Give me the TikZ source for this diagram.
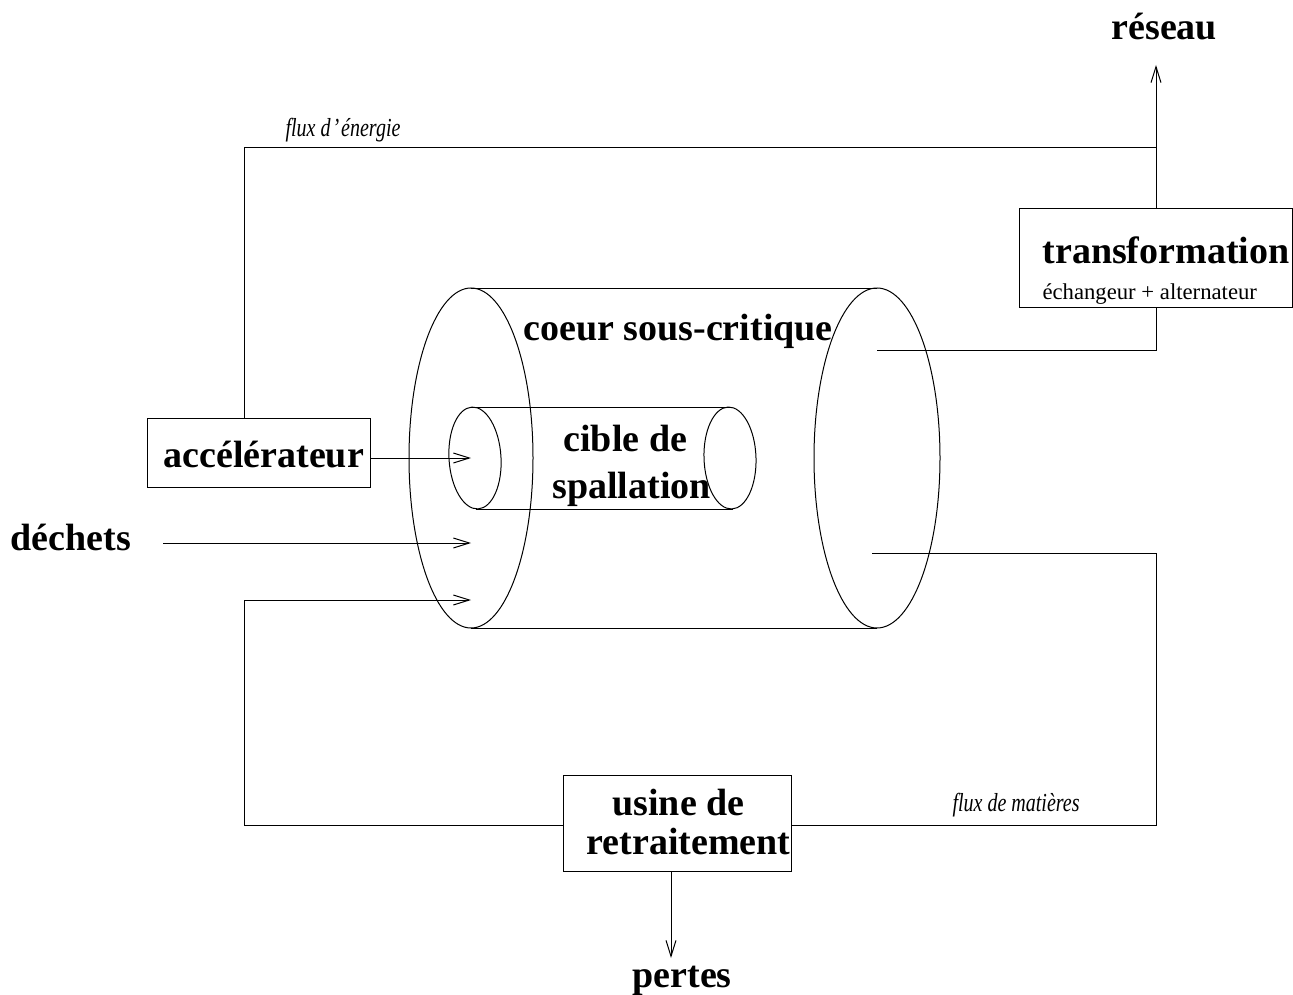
\documentclass[tikz,border=0pt]{standalone}
\usepackage{fontspec}
\setmainfont{Liberation Serif}
\newfontface\fluxfont[FakeStretch=0.77]{Liberation Serif Italic}
\usetikzlibrary{arrows.meta}
\tikzset{
    boite/.style={draw, anchor=north west, inner sep=0pt},
    titre/.style={anchor=base west, inner sep=0pt, font=\fontsize{38}{38}\selectfont\bfseries},
    petit/.style={anchor=base west, inner sep=0pt, font=\fontsize{22.7}{23}\selectfont},
    flux/.style={anchor=base west, inner sep=0pt, font=\fontsize{26}{26}\fluxfont},
    >={Straight Barb[length=16pt,width=10pt]}
}
\begin{document}
\begin{tikzpicture}[x=1pt, y=-1pt, line width=1pt]
        \useasboundingbox (0, 0) rectangle (1293, 995);
        \begin{scope}
            % coeur
            \draw (471, 458) ellipse [x radius=62, y radius=170];
            \draw (877, 458) ellipse [x radius=63, y radius=170];
            \draw (471, 288) -- (877, 288);
            \draw (471, 628) -- (877, 628);
            % cible
            \draw [rotate around={3.5:(475, 458)}] (475, 458) ellipse [x radius=26, y radius=51];
            \draw [rotate around={2:(730, 458)}] (730, 458) ellipse [x radius=26, y radius=51];
            \draw (471, 407) -- (730, 407);
            \draw (476, 509) -- (733, 509);
        \end{scope}
        \node [boite, minimum width=223pt, minimum height=69pt] (accel) at (147, 418) {};
        \node [boite, minimum width=273pt, minimum height=99pt] (transfo) at (1019, 208) {};
        \node [boite, minimum width=228pt, minimum height=96pt] (usine) at (563, 775) {};
        \coordinate (cibleIn) at (471, 458);
        \coordinate (dechetsOut) at (163, 543);
        \coordinate (dechetsIn) at (471, 543);
        \coordinate (retourIn) at (471, 600);
        \coordinate (coeurHaut) at (877, 350);
        \coordinate (coeurBas) at (872, 553);
        \coordinate (reseauIn) at (1156, 65);
        \coordinate (pertesIn) at (671, 958);
        \coordinate (accelHaut) at (244, 418);
        \coordinate (transfoHaut) at (1156, 208);
        \coordinate (transfoBas) at (1156, 307);
        \coordinate (usineBas) at (671, 871);
        \coordinate (jonction) at (1156, 148);
        \draw (accelHaut) -- (244, 148) -- (jonction);
        \draw [->] (transfoHaut) -- (reseauIn);
        \draw [->] (accel.east |- cibleIn) -- (cibleIn);
        \draw [->] (dechetsOut) -- (dechetsIn);
        \draw [->] (usine.west |- 0, 825) -- (244, 825) -- (244, 600) -- (retourIn);
        \draw (coeurHaut) -- (1156, 350) -- (transfoBas);
        \draw (coeurBas) -- (1156, 553) -- (1156, 825) -- (usine.east |- 0, 825);
        \draw [->] (usineBas) -- (pertesIn);
        \node [titre] (reseau) at (1111, 40) {réseau};
        \node [titre] (coeur) at (523, 340) {coeur sous-critique};
        \node [titre] (cible1) at (563, 451) {cible de};
        \node [titre] (cible2) at (552, 498) {spallation};
        \node [titre] (accelT) at (163, 467) {accélérateur};
        \node [titre] (dechets) at (10, 550) {déchets};
        \node [titre] (transfoT) at (1042, 263) {transformation};
        \node [petit] (echange) at (1042, 299) {échangeur + alternateur};
        \node [titre] (usine1) at (612, 815) {usine de};
        \node [titre] (usine2) at (586, 854) {retraitement};
        \node [titre] (pertes) at (632, 987) {pertes};
        \node [flux] (fluxE) at (285, 137) {flux d\kern2pt ’\kern2pt énergie};
        \node [flux] (fluxM) at (952, 811) {flux de matières};
    \end{tikzpicture}
\end{document}
